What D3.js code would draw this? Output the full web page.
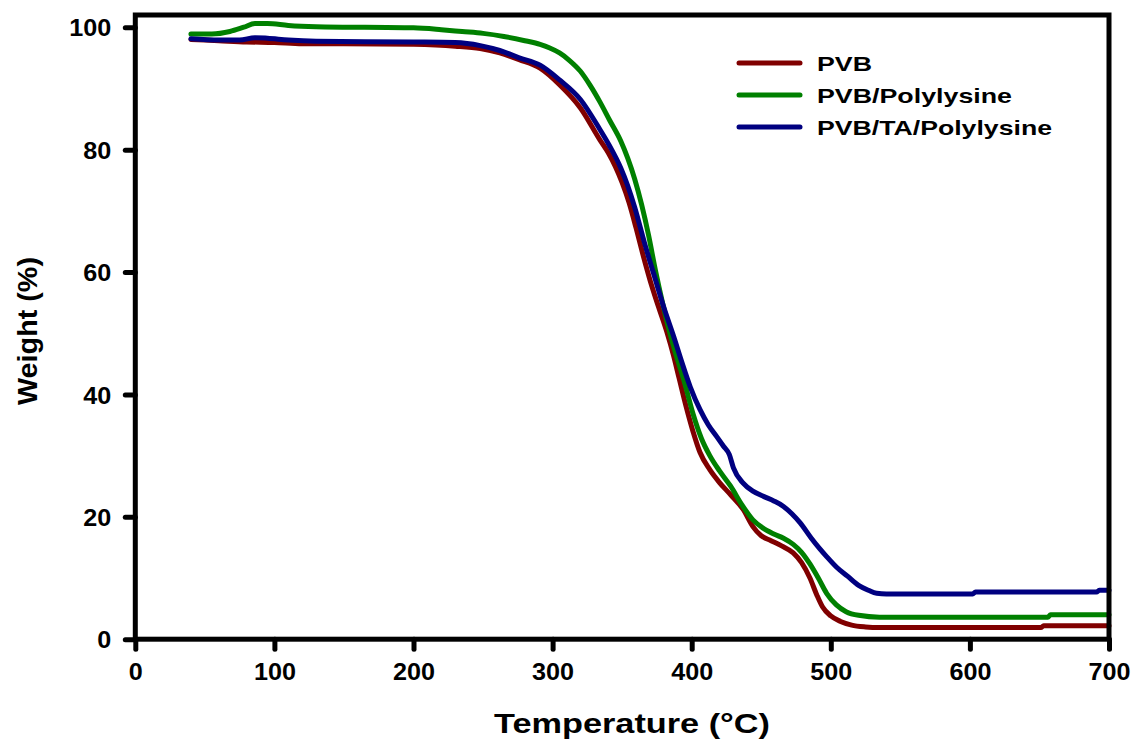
<!DOCTYPE html>
<html>
<head>
<meta charset="utf-8">
<script src="https://cdn.jsdelivr.net/npm/d3@7"></script>
<style>
  html, body { margin:0; padding:0; background:#fff; }
  svg text { font-family:"Liberation Sans", Arial, sans-serif; font-weight:bold; fill:#000; }
</style>
</head>
<body>
<div id="chart"></div>
<script>
/*********************************************************
 * DATA  (temperature °C, weight %)
 *********************************************************/
const pvb = [
  [40,98.0],[60,97.8],[80,97.6],[100,97.5],[120,97.3],[150,97.3],[200,97.2],[230,96.9],
  [248,96.5],[262,95.8],[276,94.7],[291,93.3],[305,90.6],[320,86.8],[334,81.6],[340,79.5],
  [345,77.3],[350,74.6],[355,71.3],[360,67.2],[365,62.8],[370,58.7],[376,54.4],[382,50.3],
  [387,46.3],[391,42.6],[396,38.0],[401,33.9],[406,30.5],[413,27.7],[420,25.6],[428,23.6],
  [437,21.2],[444,18.4],[450,16.9],[457,16.1],[465,15.2],[473,14.1],[479,12.5],[485,10.0],
  [490,7.2],[494,5.3],[500,3.8],[507,2.9],[515,2.3],[525,2.0],[535,1.9],[550,1.9],[570,1.9],
  [590,1.9],[610,1.9],[630,1.9],[645,1.9],[651,1.9],[653,2.2],[660,2.2],[680,2.2],[700,2.2]
];
const pvbPoly = [
  [40,98.9],[55,98.9],[68,99.3],[78,100.0],[86,100.6],[95,100.6],[110,100.3],[130,100.1],
  [200,99.9],[220,99.6],[235,99.3],[250,99.0],[265,98.5],[280,97.8],[291,97.2],[298,96.6],
  [305,95.8],[312,94.6],[320,92.8],[327,90.5],[334,87.8],[341,84.8],[349,81.4],[354,78.6],
  [359,75.2],[364,71.0],[369,66.0],[374,60.2],[379,55.0],[384,50.3],[389,46.3],[395,41.8],
  [401,36.8],[407,32.8],[413,30.0],[420,27.5],[428,25.0],[436,22.0],[444,19.5],[451,18.2],
  [459,17.2],[466,16.5],[473,15.5],[479,14.2],[485,12.3],[491,10.0],[497,7.5],[504,5.6],
  [511,4.5],[520,3.9],[535,3.6],[550,3.6],[570,3.6],[590,3.6],[610,3.6],[630,3.6],[650,3.6],
  [656,3.6],[658,4.0],[665,4.0],[685,4.0],[700,4.0]
];
const pvbTaPoly = [
  [40,98.1],[60,97.9],[75,97.9],[86,98.3],[95,98.2],[110,97.9],[130,97.7],[200,97.6],
  [230,97.5],[248,97.0],[262,96.2],[276,95.0],[291,93.8],[305,91.4],[320,88.2],[334,83.3],
  [341,80.6],[349,77.0],[354,74.1],[359,70.6],[366,64.8],[374,58.7],[380,54.2],[387,49.5],
  [393,45.2],[399,41.2],[406,37.5],[412,35.0],[418,33.1],[423,31.5],[427,30.2],[430,28.0],
  [437,25.5],[444,24.2],[452,23.3],[459,22.6],[466,21.7],[472,20.5],[478,19.0],[486,16.5],
  [492,14.8],[497,13.5],[504,11.8],[512,10.3],[520,8.8],[527,8.0],[533,7.5],[540,7.4],
  [555,7.4],[570,7.4],[585,7.4],[597,7.4],[602,7.4],[604,7.7],[610,7.7],[630,7.7],[650,7.7],
  [670,7.7],[687,7.7],[691,7.7],[693,8.0],[700,8.0]
];

const seriesNames  = ["PVB", "PVB/Polylysine", "PVB/TA/Polylysine"];
const seriesColors = ["#800000", "#008000", "#000080"];
const xTicks = [0,100,200,300,400,500,600,700];
const yTicks = [0,20,40,60,80,100];

/*********************************************************
 * LAYOUT
 *********************************************************/
const W = 1135, H = 744;
const svg = d3.select("#chart").append("svg").attr("width",W).attr("height",H);

const x = d3.scaleLinear().domain([0,700]).range([135.3,1109]);
const y = d3.scaleLinear().domain([0,102]).range([639.2,15]);

// curves
const line = d3.line().x(d=>x(d[0])).y(d=>y(d[1])).curve(d3.curveMonotoneX);
[pvb, pvbPoly, pvbTaPoly].forEach((s,i)=>{
  svg.append("path").datum(s)
     .attr("d",line).attr("fill","none")
     .attr("stroke",seriesColors[i]).attr("stroke-width",5)
     .attr("stroke-linejoin","round").attr("stroke-linecap","round");
});

// frame
svg.append("rect")
   .attr("x",x(0)).attr("y",y(102))
   .attr("width",x(700)-x(0)).attr("height",y(0)-y(102))
   .attr("fill","none").attr("stroke","#000").attr("stroke-width",5);

// axes (outward ticks)
const yAxis = svg.append("g").attr("transform",`translate(${x(0)},0)`)
   .call(d3.axisLeft(y).tickValues(yTicks).tickSize(10).tickPadding(14));
const xAxis = svg.append("g").attr("transform",`translate(0,${y(0)})`)
   .call(d3.axisBottom(x).tickValues(xTicks).tickSize(10).tickPadding(14));

[yAxis, xAxis].forEach(g=>{
  g.select(".domain").remove();
  g.selectAll(".tick line").attr("stroke","#000").attr("stroke-width",5).attr("stroke-linecap","round");
  g.selectAll(".tick text")
   .attr("font-size",24).attr("font-family",null).style("fill","#000")
   .attr("textLength",d=>String(d).length*14).attr("lengthAdjust","spacingAndGlyphs");
});
yAxis.selectAll(".tick text").attr("dy","0.36em");
xAxis.selectAll(".tick text").attr("dy","0.7em");

// axis titles
svg.append("text")
   .attr("x",632).attr("y",733).attr("text-anchor","middle")
   .attr("font-size",27).attr("textLength",276).attr("lengthAdjust","spacingAndGlyphs")
   .text("Temperature (°C)");
svg.append("text")
   .attr("transform","translate(37,331) rotate(-90)").attr("text-anchor","middle")
   .attr("font-size",27).attr("textLength",148).attr("lengthAdjust","spacingAndGlyphs")
   .text("Weight (%)");

// legend
const leg = svg.append("g");
seriesNames.forEach((n,i)=>{
  const ly = 63 + i*32;
  leg.append("line").attr("x1",739).attr("x2",800).attr("y1",ly).attr("y2",ly)
     .attr("stroke",seriesColors[i]).attr("stroke-width",5).attr("stroke-linecap","round");
});
const legW = [55, 195, 235];
seriesNames.forEach((n,i)=>{
  leg.append("text").attr("x",817).attr("y",63 + i*32 + 7.5)
     .attr("font-size",21).attr("textLength",legW[i]).attr("lengthAdjust","spacingAndGlyphs")
     .text(n);
});
</script>
</body>
</html>
